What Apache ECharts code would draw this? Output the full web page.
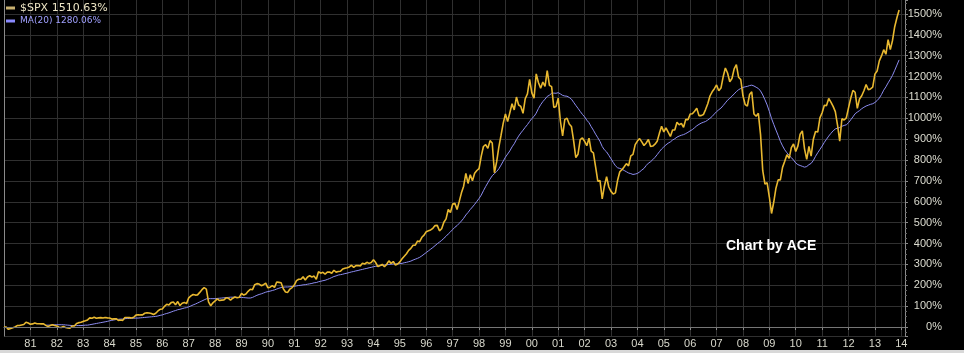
<!DOCTYPE html>
<html>
<head>
<meta charset="utf-8">
<title>$SPX</title>
<script src="https://cdn.jsdelivr.net/npm/echarts@6/dist/echarts.min.js"></script>
<style>
  html, body { margin: 0; padding: 0; background: #000; }
  #chart { width: 964px; height: 353px; }
</style>
</head>
<body>
<div id="chart"></div>
<script>
// $SPX month-end, % change since Jan 1980, one row per year
var firstYear = 1980;
var spxPct = [
  0, 0, -11, -7, -3, 0, 7, 7, 10, 12, 23, 19,
  13, 15, 19, 16, 16, 15, 15, 8, 2, 7, 11, 7,
  5, -1, -2, 2, -2, -4, -6, 5, 5, 17, 21, 23,
  27, 30, 34, 44, 42, 47, 42, 44, 45, 43, 46, 44,
  43, 38, 39, 40, 32, 34, 32, 46, 46, 45, 43, 47,
  57, 59, 58, 58, 66, 68, 67, 65, 60, 66, 77, 85,
  86, 99, 109, 106, 117, 120, 107, 122, 103, 114, 118, 112,
  140, 149, 156, 153, 154, 166, 179, 189, 182, 121, 102, 116,
  125, 135, 127, 129, 130, 140, 138, 129, 138, 144, 140, 143,
  161, 153, 158, 171, 181, 179, 203, 208, 206, 198, 203, 210,
  188, 191, 198, 190, 216, 214, 212, 183, 168, 166, 182, 189,
  201, 222, 229, 229, 241, 225, 240, 246, 240, 244, 229, 265,
  258, 262, 254, 263, 264, 258, 272, 263, 266, 267, 278, 282,
  284, 288, 296, 286, 294, 295, 293, 306, 302, 310, 305, 309,
  322, 309, 290, 295, 300, 289, 301, 317, 305, 314, 297, 302,
  312, 327, 339, 351, 367, 377, 392, 392, 412, 409, 430, 440,
  457, 461, 465, 473, 486, 487, 461, 471, 502, 518, 563, 549,
  589, 593, 563, 602, 643, 675, 736, 688, 730, 701, 737, 750,
  759, 819, 865, 874, 856, 893, 882, 739, 791, 862, 919, 977,
  1021, 985, 1027, 1070, 1040, 1102, 1064, 1057, 1024, 1094, 1117, 1187,
  1122, 1097, 1213, 1172, 1144, 1174, 1153, 1229, 1158, 1152, 1052, 1057,
  1097, 986, 916, 995, 1000, 973, 961, 893, 812, 828, 898, 906,
  890, 869, 905, 843, 835, 767, 699, 702, 614, 676, 720, 671,
  650, 637, 643, 703, 744, 754, 768, 783, 772, 820, 827, 874,
  891, 903, 887, 870, 882, 899, 865, 867, 876, 890, 928, 962,
  935, 954, 934, 913, 944, 944, 981, 969, 976, 957, 995, 993,
  1021, 1022, 1034, 1048, 1013, 1013, 1018, 1042, 1070, 1107, 1127, 1142,
  1160, 1132, 1145, 1199, 1241, 1217, 1175, 1191, 1237, 1257, 1197, 1186,
  1108, 1066, 1059, 1114, 1127, 1021, 1010, 1024, 922, 749, 685, 691,
  623, 544, 599, 665, 705, 705, 765, 794, 826, 808, 860, 877,
  841, 868, 924, 940, 854, 803, 865, 819, 900, 937, 934, 1002,
  1027, 1063, 1061, 1095, 1078, 1057, 1032, 968, 891, 998, 992, 1002,
  1050, 1096, 1134, 1125, 1048, 1093, 1108, 1132, 1162, 1137, 1141, 1149,
  1212, 1227, 1275, 1299, 1329, 1307, 1377, 1330, 1373, 1439, 1482, 1519
];

// MA(20), first value is Aug 1981 (month index 19)
var maStart = 19;
var maPct = [
  9, 9, 9, 10, 11,
  11, 11, 11, 11, 10, 9, 8, 7, 7, 7, 7, 7,
  8, 9, 9, 11, 13, 15, 17, 19, 21, 23, 25, 27,
  30, 32, 34, 36, 37, 38, 38, 40, 41, 41, 42, 42,
  43, 43, 44, 45, 46, 47, 48, 49, 50, 51, 53, 56,
  58, 62, 65, 68, 72, 76, 79, 83, 85, 88, 91, 93,
  97, 101, 106, 110, 115, 120, 125, 130, 135, 136, 136, 136,
  136, 137, 138, 139, 140, 141, 142, 143, 143, 143, 142, 141,
  142, 141, 140, 139, 139, 142, 147, 152, 156, 159, 163, 167,
  170, 172, 175, 178, 182, 186, 189, 191, 192, 192, 193, 194,
  195, 197, 199, 200, 202, 203, 205, 207, 209, 212, 213, 217,
  219, 222, 224, 228, 232, 237, 242, 245, 249, 251, 253, 256,
  258, 261, 264, 266, 269, 271, 274, 276, 279, 281, 284, 286,
  289, 291, 292, 294, 296, 297, 298, 300, 301, 302, 302, 303,
  304, 305, 308, 310, 313, 316, 321, 325, 329, 334, 341, 349,
  357, 365, 373, 381, 390, 399, 407, 415, 425, 435, 446, 456,
  467, 478, 486, 497, 508, 521, 537, 549, 563, 575, 588, 602,
  616, 632, 653, 673, 691, 709, 725, 735, 745, 758, 776, 795,
  814, 829, 844, 863, 878, 898, 915, 930, 943, 957, 970, 985,
  999, 1009, 1025, 1047, 1065, 1080, 1092, 1105, 1111, 1120, 1121, 1120,
  1123, 1117, 1110, 1107, 1106, 1100, 1092, 1077, 1062, 1048, 1033, 1019,
  1007, 991, 979, 960, 943, 924, 907, 889, 865, 849, 839, 823,
  806, 789, 773, 763, 760, 756, 750, 744, 738, 735, 731, 733,
  736, 743, 752, 760, 774, 785, 792, 802, 813, 826, 840, 853,
  863, 873, 881, 887, 896, 902, 910, 915, 919, 922, 927, 933,
  940, 946, 955, 964, 971, 977, 981, 985, 992, 1000, 1009, 1021,
  1032, 1041, 1049, 1061, 1074, 1087, 1096, 1106, 1117, 1128, 1137, 1143,
  1148, 1151, 1153, 1157, 1159, 1155, 1149, 1143, 1131, 1112, 1089, 1064,
  1033, 999, 971, 944, 918, 890, 868, 849, 835, 822, 812, 800,
  786, 778, 774, 770, 766, 769, 778, 784, 798, 818, 835, 851,
  867, 885, 900, 915, 928, 940, 949, 953, 956, 962, 966, 969,
  979, 993, 1007, 1022, 1030, 1037, 1046, 1053, 1059, 1063, 1067, 1070,
  1076, 1085, 1097, 1114, 1135, 1151, 1170, 1187, 1206, 1230, 1255, 1280
];

var spxLast = '1510.63%';
var maLast = '1280.06%';
var credit = 'Chart by ACE';

// month index -> decimal year on the x axis
function toPoints(values, offset) {
  return values.map(function (v, i) {
    return [firstYear + (i + offset) / 12, v];
  });
}

var chart = echarts.init(document.getElementById('chart'));

var option = {
  backgroundColor: '#000',
  animation: false,
  title: {
    text: credit,
    left: 726,
    top: 239,
    padding: 0,
    textStyle: { color: '#fff', fontSize: 14, fontWeight: 'bold', fontFamily: 'Liberation Sans' }
  },
  legend: {
    orient: 'vertical',
    left: 6,
    top: 2,
    padding: 0,
    itemGap: 1,
    itemWidth: 9,
    itemHeight: 3,
    icon: 'rect',
    data: [
      { name: '$SPX', itemStyle: { color: '#c8b070' } },
      { name: 'MA(20)', itemStyle: { color: '#8a8aff' } }
    ],
    formatter: function (name) {
      return name === '$SPX' ? '{s|$SPX ' + spxLast + '}' : '{m|MA(20) ' + maLast + '}';
    },
    textStyle: {
      lineHeight: 12,
      rich: {
        s: { color: '#ece4c4', fontSize: 11, fontFamily: 'DejaVu Sans', lineHeight: 12 },
        m: { color: '#a0a0ff', fontSize: 9, fontFamily: 'DejaVu Sans', lineHeight: 12 }
      }
    }
  },
  graphic: [
    { type: 'rect', left: 0, bottom: 0, shape: { width: 964, height: 3 }, style: { fill: '#d8d8d8' } }
  ],
  grid: { left: 4, right: 59, top: 0, bottom: 17 },
  xAxis: {
    type: 'value',
    min: 1980,
    max: 2014.14,
    minInterval: 1,
    maxInterval: 1,
    axisLine: { lineStyle: { color: '#8a8a8a' } },
    axisTick: { show: true, length: 3, lineStyle: { color: '#8a8a8a' } },
    axisLabel: {
      color: '#d8d8cc',
      fontSize: 11,
      fontFamily: 'Liberation Sans',
      margin: 2,
      showMinLabel: false,
      showMaxLabel: false,
      formatter: function (v) {
        if (Math.abs(v - Math.round(v)) > 1e-6) return '';
        return String(Math.round(v)).slice(2);
      }
    },
    splitLine: { show: true, lineStyle: { color: '#303030' } }
  },
  yAxis: [
    {
      type: 'value',
      position: 'right',
      min: -43,
      max: 1567,
      minInterval: 100,
      maxInterval: 100,
      axisLine: { show: true, lineStyle: { color: '#8a8a8a' } },
      axisTick: { show: true, length: 3, lineStyle: { color: '#8a8a8a' } },
      minorTick: { show: true, splitNumber: 4, length: 2, lineStyle: { color: '#6a6a6a' } },
      axisLabel: {
        color: '#dcdcd0',
        fontSize: 11,
        fontFamily: 'Liberation Sans',
        align: 'right',
        margin: 37,
        showMinLabel: false,
        showMaxLabel: false,
        formatter: function (v) { return v + '%'; }
      },
      splitLine: { show: true, showMaxLine: false, lineStyle: { color: '#303030' } }
    },
    {
      type: 'value',
      position: 'left',
      min: -43,
      max: 1567,
      axisLine: { show: true, lineStyle: { color: '#8a8a8a' } },
      axisTick: { show: false },
      axisLabel: { show: false },
      splitLine: { show: false }
    }
  ],
  series: [
    {
      name: 'MA(20)',
      type: 'line',
      data: toPoints(maPct, maStart),
      showSymbol: false,
      lineStyle: { color: '#8c8cf0', width: 1 },
      itemStyle: { color: '#8c8cf0' },
      z: 3
    },
    {
      name: '$SPX',
      type: 'line',
      data: toPoints(spxPct, 0),
      showSymbol: false,
      lineStyle: { color: '#e8b830', width: 1.6 },
      itemStyle: { color: '#e8b830' },
      z: 4,
      markLine: {
        silent: true,
        symbol: 'none',
        label: { show: false },
        lineStyle: { color: '#767676', type: 'solid', width: 1 },
        data: [{ yAxis: 0 }]
      }
    }
  ]
};

chart.setOption(option);
</script>
</body>
</html>
